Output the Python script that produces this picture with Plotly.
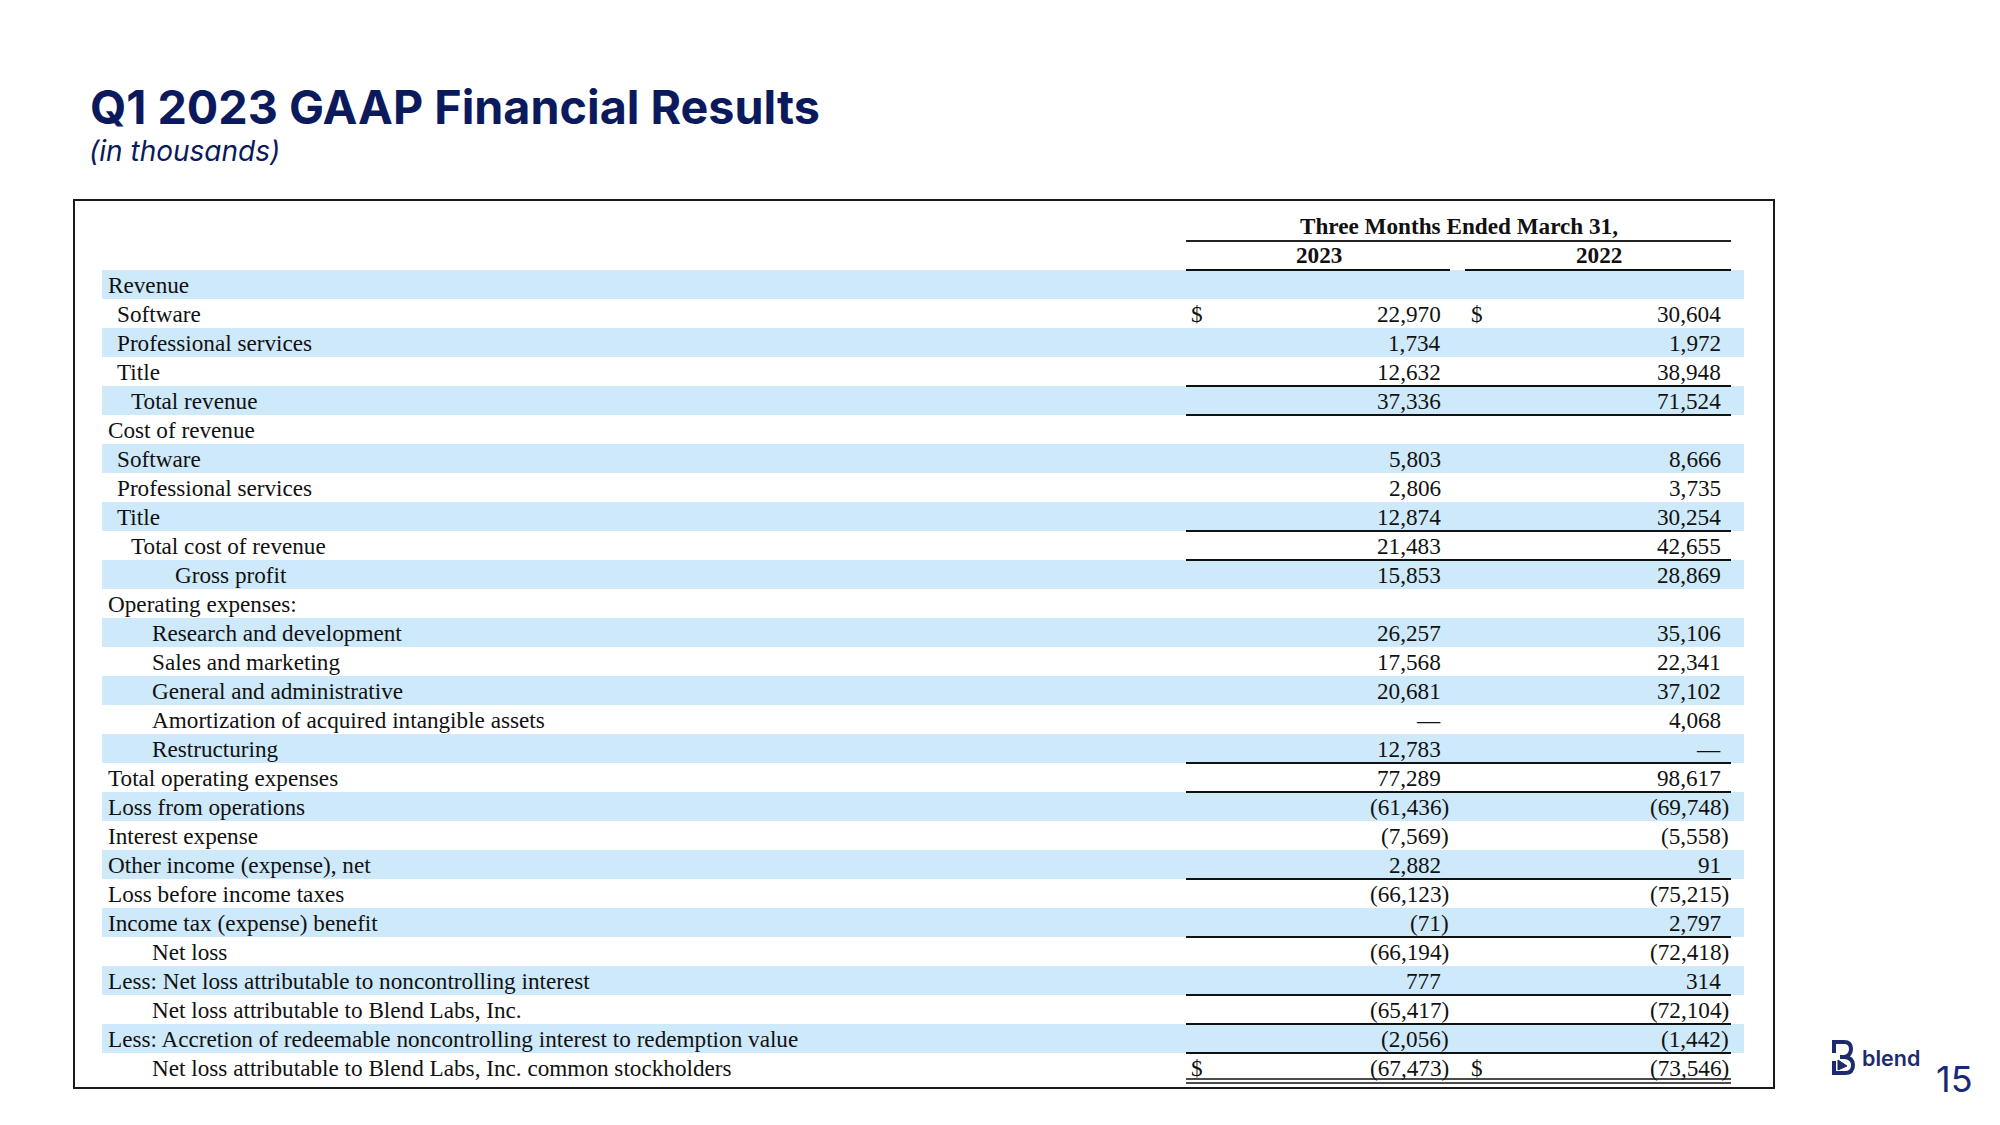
import plotly.graph_objects as go

# ---------------- data ----------------
labels = [
    "Revenue", "Software", "Professional services", "Title", "Total revenue",
    "Cost of revenue", "Software", "Professional services", "Title",
    "Total cost of revenue", "Gross profit", "Operating expenses:",
    "Research and development", "Sales and marketing", "General and administrative",
    "Amortization of acquired intangible assets", "Restructuring",
    "Total operating expenses", "Loss from operations", "Interest expense",
    "Other income (expense), net", "Loss before income taxes",
    "Income tax (expense) benefit", "Net loss",
    "Less: Net loss attributable to noncontrolling interest",
    "Net loss attributable to Blend Labs, Inc.",
    "Less: Accretion of redeemable noncontrolling interest to redemption value",
    "Net loss attributable to Blend Labs, Inc. common stockholders",
]
values_2023 = [None, 22970, 1734, 12632, 37336, None, 5803, 2806, 12874, 21483, 15853,
               None, 26257, 17568, 20681, 0, 12783, 77289, -61436, -7569, 2882,
               -66123, -71, -66194, 777, -65417, -2056, -67473]
values_2022 = [None, 30604, 1972, 38948, 71524, None, 8666, 3735, 30254, 42655, 28869,
               None, 35106, 22341, 37102, 4068, 0, 98617, -69748, -5558, 91,
               -75215, 2797, -72418, 314, -72104, -1442, -73546]
column_years = ["2023", "2022"]
header_text = "Three Months Ended March 31,"
dollar_rows = [1, 27]
single_rule_rows = [3, 4, 8, 9, 16, 17, 20, 22, 24, 25, 26]
double_rule_rows = [27]
title_text = "Q1 2023 GAAP Financial Results"
subtitle_text = "(in thousands)"
page_number = "15"
brand_text = "blend"

# ---------------- styling ----------------
indent_level = [0, 1, 1, 1, 2, 0, 1, 1, 1, 2, 4, 0, 3, 3, 3, 3, 3, 0, 0, 0, 0, 0, 0, 3, 0, 3, 0, 3]
INDENT_X = {0: 106, 1: 115, 2: 129, 3: 150, 4: 173}
ROW0_TOP = 270
ROW_H = 29
BAND_X0, BAND_X1 = 102, 1744
BAND_COLOR = "#cde9fa"
COL_RIGHT = [1443, 1723]
DOLLAR_X = [1189, 1469]
PAREN_W = 8
RULE_X0, RULE_X1 = 1186, 1731
HDR_SPLIT = [(1186, 1450), (1465, 1731)]
TFONT = "Liberation Serif"
TSIZE = 23.2
NAVY = "#0b1a5c"
PAGE_MARGIN = 8  # browser default body margin

fig = go.Figure()
shapes = []
ann = []

def row_center(i):
    return ROW0_TOP + ROW_H * i + ROW_H / 2

# bands
for i in range(len(labels)):
    if i % 2 == 0:
        shapes.append(dict(type="rect", xref="x", yref="y", x0=BAND_X0, x1=BAND_X1,
                           y0=ROW0_TOP + ROW_H * i, y1=ROW0_TOP + ROW_H * (i + 1),
                           fillcolor=BAND_COLOR, line=dict(width=0), layer="below"))

# rules
for i in single_rule_rows:
    y = ROW0_TOP + ROW_H * (i + 1)
    shapes.append(dict(type="line", xref="x", yref="y", x0=RULE_X0, x1=RULE_X1, y0=y, y1=y,
                       line=dict(color="#111111", width=2)))
for i in double_rule_rows:
    y = ROW0_TOP + ROW_H * (i + 1)
    for dy in (-3, 1):
        shapes.append(dict(type="line", xref="x", yref="y", x0=RULE_X0, x1=RULE_X1,
                           y0=y + dy, y1=y + dy, line=dict(color="#111111", width=1.6)))

# header
shapes.append(dict(type="line", xref="x", yref="y", x0=RULE_X0, x1=RULE_X1, y0=241, y1=241,
                   line=dict(color="#222222", width=2)))
for (a, b) in HDR_SPLIT:
    shapes.append(dict(type="line", xref="x", yref="y", x0=a, x1=b, y0=270, y1=270,
                       line=dict(color="#111111", width=2)))
ann.append(dict(x=(RULE_X0 + RULE_X1) / 2, y=226, text="<b>" + header_text + "</b>",
                xanchor="center", yanchor="middle"))
for k, yr in enumerate(column_years):
    a, b = HDR_SPLIT[k]
    ann.append(dict(x=(a + b) / 2 + 1, y=255, text="<b>" + yr + "</b>",
                    xanchor="center", yanchor="middle"))

# border box
shapes.append(dict(type="rect", xref="x", yref="y", x0=74, x1=1774, y0=200, y1=1088,
                   line=dict(color="#1a1a1a", width=2), fillcolor="rgba(0,0,0,0)"))

# labels and values
def fmt(v):
    if v == 0:
        return "—"
    s = f"{abs(v):,}"
    return f"({s})" if v < 0 else s

for i, lab in enumerate(labels):
    yc = row_center(i)
    ann.append(dict(x=INDENT_X[indent_level[i]], y=yc, text=lab, xanchor="left", yanchor="middle"))
    for c, vals in enumerate([values_2023, values_2022]):
        v = vals[i]
        if v is None:
            continue
        xr = COL_RIGHT[c] + (PAREN_W if v < 0 else 0)
        ann.append(dict(x=xr, y=yc, text=fmt(v), xanchor="right", yanchor="middle"))
        if i in dollar_rows:
            ann.append(dict(x=DOLLAR_X[c], y=yc, text="$", xanchor="left", yanchor="middle"))

for a in ann:
    a.update(xref="x", yref="y", showarrow=False,
             font=dict(family=TFONT, size=TSIZE, color="#111111"))

# title & subtitle
ann.append(dict(x=88, y=107, xref="x", yref="y", text="<b>" + title_text + "</b>",
                xanchor="left", yanchor="middle", showarrow=False,
                font=dict(family="Inter", size=46.7, color=NAVY, weight=800)))
ann.append(dict(x=87, y=151, xref="x", yref="y", text="<i>" + subtitle_text + "</i>",
                xanchor="left", yanchor="middle", showarrow=False,
                font=dict(family="Inter", size=28, color=NAVY)))

# brand
ann.append(dict(x=1860, y=1058, xref="x", yref="y", text=brand_text,
                xanchor="left", yanchor="middle", showarrow=False,
                font=dict(family="Inter", size=21.5, color="#1c2a6e", weight=600)))
ann.append(dict(x=1934, y=1079, xref="x", yref="y", text=page_number,
                xanchor="left", yanchor="middle", showarrow=False,
                font=dict(family="Inter", size=36, color="#1b2878")))
icon_col = "#1c2a6e"
shapes.append(dict(type="path", xref="x", yref="y",
                   path="M 1834 1053 L 1834 1042 L 1844 1042 Q 1851 1042 1851 1049 Q 1851 1055 1845 1057",
                   line=dict(color=icon_col, width=4)))
shapes.append(dict(type="path", xref="x", yref="y",
                   path="M 1840 1057 L 1845 1057 Q 1853 1058 1853 1065 Q 1853 1073 1845 1073 L 1834 1073 L 1834 1061",
                   line=dict(color=icon_col, width=4)))
shapes.append(dict(type="path", xref="x", yref="y",
                   path="M 1838 1060 L 1847 1066 L 1838 1070 Z",
                   fillcolor=icon_col, line=dict(color=icon_col, width=1)))

W, H = 2000, 1125
fig.update_layout(
    width=W - 2 * PAGE_MARGIN, height=H - 2 * PAGE_MARGIN,
    margin=dict(l=0, r=0, t=0, b=0),
    paper_bgcolor="white", plot_bgcolor="white",
    xaxis=dict(range=[PAGE_MARGIN, W - PAGE_MARGIN], visible=False, fixedrange=True),
    yaxis=dict(range=[H - PAGE_MARGIN, PAGE_MARGIN], visible=False, fixedrange=True),
    shapes=shapes, annotations=ann, showlegend=False,
)
fig.write_html("out.html")
